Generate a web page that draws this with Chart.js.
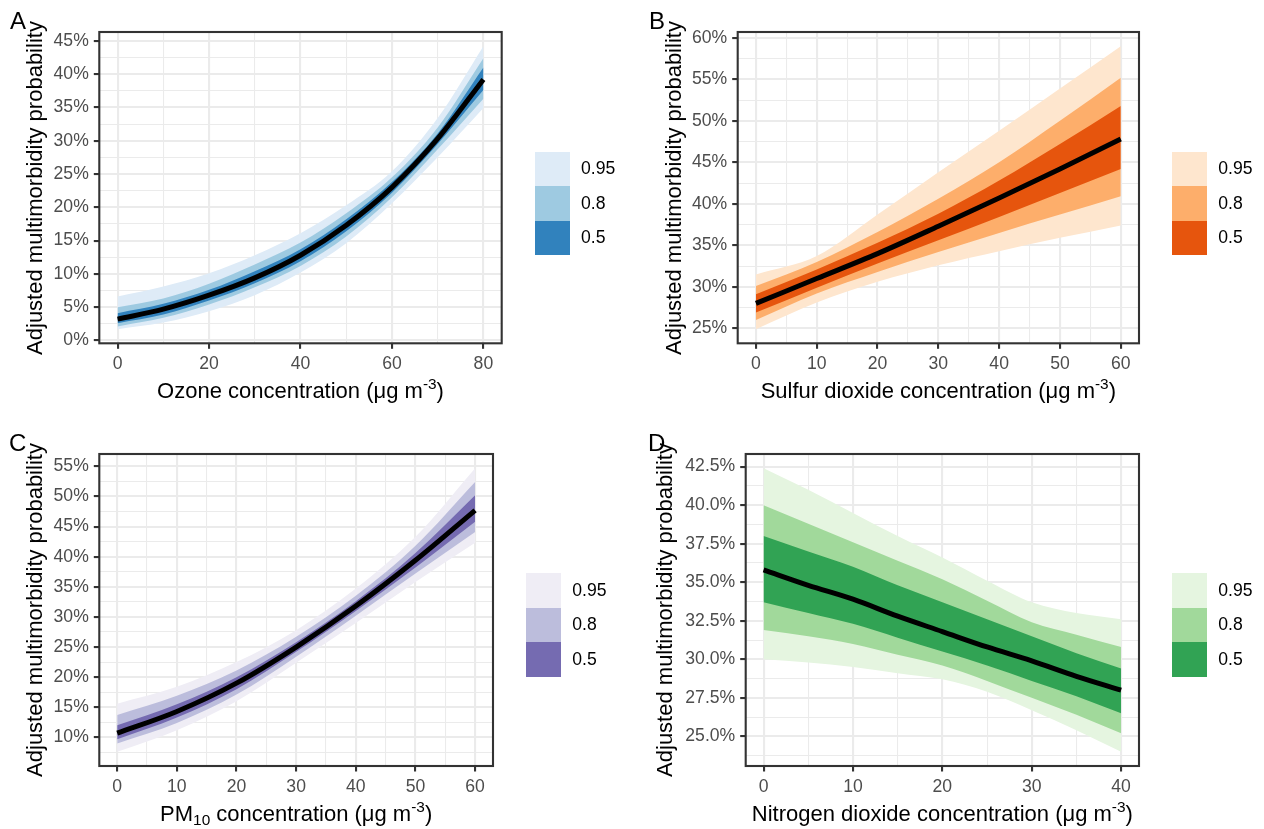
<!DOCTYPE html>
<html>
<head>
<meta charset="utf-8">
<script src="https://cdn.jsdelivr.net/npm/chart.js@4.4.1/dist/chart.umd.min.js"></script>
<style>
  html, body { margin: 0; padding: 0; background: #fff; }
  #fig { position: relative; width: 1264px; height: 829px; overflow: hidden;
         font-family: "Liberation Sans", Arial, Helvetica, sans-serif; }
  #fig canvas { position: absolute; }
  .txt { position: absolute; white-space: nowrap; color: #000; }
  .xt { font-size: 22px; line-height: 22px; text-align: center; width: 600px; }
  .yt { font-size: 22px; line-height: 22px; text-align: center; width: 500px; height: 22px;
        transform: rotate(-90deg); transform-origin: 50% 50%; }
  .sup { font-size: 15.4px; position: relative; top: -9px; }
  .sub { font-size: 15.4px; position: relative; top: 4px; }
  .tag { font-size: 24px; line-height: 24px; }
  .key { position: absolute; width: 35px; height: 34.5px; }
  .lab { font-size: 17.6px; line-height: 17.6px; }
</style>
</head>
<body>
<div id="fig"></div>
<script>
// ---------- data (probabilities in %) ----------
const levels = ['0.95', '0.8', '0.5'];

// Ozone
const ozoneX     = [0, 10, 20, 30, 40, 50, 60, 70, 80];
const ozoneFit   = [3.2, 4.7, 6.8, 9.4, 12.8, 17.3, 23.0, 30.3, 39.2];
const ozoneHi95  = [6.6, 8.1, 10.1, 12.8, 16.1, 20.3, 25.4, 33.4, 44.2];
const ozoneHi80  = [5.0, 6.3, 8.5, 11.4, 14.7, 19.1, 24.5, 32.0, 42.4];
const ozoneHi50  = [4.1, 5.5, 7.6, 10.4, 13.7, 18.2, 23.8, 31.1, 41.0];
const ozoneLo50  = [2.6, 3.9, 6.0, 8.6, 11.9, 16.4, 22.2, 29.5, 37.6];
const ozoneLo80  = [2.1, 3.4, 5.4, 8.0, 11.2, 15.6, 21.5, 28.7, 36.3];
const ozoneLo95  = [1.7, 2.7, 4.4, 6.8, 10.2, 14.6, 20.6, 27.5, 34.9];
const ozoneXTicks = [0, 20, 40, 60, 80];
const ozoneYTicks = [0, 5, 10, 15, 20, 25, 30, 35, 40, 45];

// Sulfur dioxide
const so2X    = [0, 10, 20, 30, 40, 50, 60];
const so2Fit  = [28.0, 31.0, 34.0, 37.3, 40.7, 44.2, 47.8];
const so2Hi95 = [31.5, 33.7, 38.7, 43.8, 48.8, 53.9, 59.0];
const so2Hi80 = [30.1, 33.0, 36.6, 40.6, 45.0, 50.0, 55.2];
const so2Hi50 = [29.1, 32.1, 35.3, 38.8, 42.8, 47.2, 51.8];
const so2Lo50 = [26.9, 29.9, 32.8, 35.6, 38.4, 41.3, 44.2];
const so2Lo80 = [26.0, 29.2, 31.8, 34.2, 36.5, 38.7, 40.9];
const so2Lo95 = [24.9, 28.1, 30.6, 32.6, 34.3, 35.9, 37.4];
const so2XTicks = [0, 10, 20, 30, 40, 50, 60];
const so2YTicks = [25, 30, 35, 40, 45, 50, 55, 60];

// PM10
const pm10X    = [0, 10, 20, 30, 40, 50, 60];
const pm10Fit  = [10.7, 14.3, 19.0, 25.0, 31.8, 39.4, 47.7];
const pm10Hi95 = [15.6, 18.4, 22.5, 27.8, 34.7, 43.3, 54.7];
const pm10Hi80 = [13.7, 16.9, 21.1, 26.7, 33.5, 41.8, 52.4];
const pm10Hi50 = [12.0, 15.5, 20.0, 25.8, 32.6, 40.6, 50.2];
const pm10Lo50 = [9.7, 13.3, 18.0, 24.2, 31.0, 38.2, 45.8];
const pm10Lo80 = [9.0, 12.4, 17.1, 23.4, 30.2, 37.2, 44.1];
const pm10Lo95 = [7.6, 11.2, 16.0, 22.4, 29.0, 35.8, 42.3];
const pm10XTicks = [0, 10, 20, 30, 40, 50, 60];
const pm10YTicks = [10, 15, 20, 25, 30, 35, 40, 45, 50, 55];

// Nitrogen dioxide
const no2X    = [0, 5, 10, 15, 20, 25, 30, 35, 40];
const no2Fit  = [35.8, 34.8, 33.9, 32.8, 31.8, 30.8, 29.9, 28.9, 28.0];
const no2Hi95 = [42.4, 41.0, 39.5, 38.0, 36.6, 35.1, 33.7, 33.0, 32.6];
const no2Hi80 = [40.0, 38.8, 37.6, 36.4, 35.2, 33.8, 32.4, 31.6, 30.8];
const no2Hi50 = [38.0, 37.0, 36.0, 34.8, 33.7, 32.6, 31.5, 30.4, 29.4];
const no2Lo50 = [33.7, 33.0, 32.3, 31.4, 30.5, 29.6, 28.6, 27.6, 26.5];
const no2Lo80 = [31.9, 31.5, 31.0, 30.3, 29.6, 28.6, 27.5, 26.4, 25.2];
const no2Lo95 = [30.0, 29.8, 29.5, 29.1, 28.7, 27.9, 26.7, 25.4, 24.0];
const no2XTicks = [0, 10, 20, 30, 40];
const no2YTicks = [25, 27.5, 30, 32.5, 35, 37.5, 40, 42.5];

// ---------- styling ----------
const FONT = '"Liberation Sans", Arial, Helvetica, sans-serif';
const blues   = ['#DEEBF7', '#9ECAE1', '#3182BD'];
const oranges = ['#FEE6CE', '#FDAE6B', '#E6550D'];
const purples = ['#EFEDF5', '#BCBDDC', '#756BB1'];
const greens  = ['#E5F5E0', '#A1D99B', '#31A354'];
const UNIT = ' (&mu;g m<span class="sup">-3</span>)';

const panels = [
  { tag: 'A', box: [0, 0, 632, 414], plot: [99.3, 32, 501.7, 343.3],
    xs: ozoneX, fit: ozoneFit, hi: [ozoneHi95, ozoneHi80, ozoneHi50], lo: [ozoneLo95, ozoneLo80, ozoneLo50],
    xTicks: ozoneXTicks, yTicks: ozoneYTicks, yFmt: v => v + '%', colors: blues,
    tagPos: [10, 9], yTitleX: 43, xTitleY: 398.5, legend: [535, 151.7],
    xTitle: 'Ozone concentration' + UNIT },
  { tag: 'B', box: [632, 0, 632, 414], plot: [737.7, 32, 1139, 343.3],
    xs: so2X, fit: so2Fit, hi: [so2Hi95, so2Hi80, so2Hi50], lo: [so2Lo95, so2Lo80, so2Lo50],
    xTicks: so2XTicks, yTicks: so2YTicks, yFmt: v => v + '%', colors: oranges,
    tagPos: [649, 9], yTitleX: 681.5, xTitleY: 398.5, legend: [1172.3, 151.7],
    xTitle: 'Sulfur dioxide concentration' + UNIT },
  { tag: 'C', box: [0, 414, 632, 415], plot: [99.3, 454, 493, 766],
    xs: pm10X, fit: pm10Fit, hi: [pm10Hi95, pm10Hi80, pm10Hi50], lo: [pm10Lo95, pm10Lo80, pm10Lo50],
    xTicks: pm10XTicks, yTicks: pm10YTicks, yFmt: v => v + '%', colors: purples,
    tagPos: [9, 431], yTitleX: 43, xTitleY: 821.2, legend: [526.3, 573.3],
    xTitle: 'PM<span class="sub">10</span> concentration' + UNIT },
  { tag: 'D', box: [632, 414, 632, 415], plot: [745.7, 454, 1139, 766],
    xs: no2X, fit: no2Fit, hi: [no2Hi95, no2Hi80, no2Hi50], lo: [no2Lo95, no2Lo80, no2Lo50],
    xTicks: no2XTicks, yTicks: no2YTicks, yFmt: v => v.toFixed(1) + '%', colors: greens,
    tagPos: [648, 431], yTitleX: 673, xTitleY: 821.2, legend: [1172.3, 573.3],
    xTitle: 'Nitrogen dioxide concentration' + UNIT }
];

const fig = document.getElementById('fig');

// ggplot-style 5% expansion of the data range
function expand(vals) {
  const lo = Math.min(...vals), hi = Math.max(...vals), d = (hi - lo) * 0.05;
  return [lo - d, hi + d];
}
// major breaks plus minor breaks halfway between them
function withMinor(major, lo, hi) {
  const step = major[1] - major[0], out = [];
  for (let v = major[0] - step / 2; v <= major[major.length - 1] + step / 2 + 1e-9; v += step / 2) {
    if (v >= lo && v <= hi) out.push(Math.round(v * 1000) / 1000);
  }
  return out;
}
const isIn = (list, v) => list.some(m => Math.abs(m - v) < 1e-6);

// panel border drawn around the plotting area
const framePlugin = {
  id: 'frame',
  afterDraw(chart) {
    const { ctx, chartArea: a } = chart;
    ctx.save();
    ctx.strokeStyle = '#333333';
    ctx.lineWidth = 2.1;
    ctx.strokeRect(a.left, a.top, a.right - a.left, a.bottom - a.top);
    ctx.restore();
  }
};

function addText(cls, html, left, top) {
  const d = document.createElement('div');
  d.className = 'txt ' + cls;
  d.innerHTML = html;
  d.style.left = left + 'px';
  d.style.top = top + 'px';
  fig.appendChild(d);
  return d;
}

panels.forEach(p => {
  const [bx, by, bw, bh] = p.box;
  const [pl, pt, pr, pb] = p.plot;
  const cv = document.createElement('canvas');
  cv.width = bw; cv.height = bh;
  cv.style.left = bx + 'px'; cv.style.top = by + 'px';
  cv.style.width = bw + 'px'; cv.style.height = bh + 'px';
  fig.appendChild(cv);

  const pts = arr => p.xs.map((x, i) => ({ x: x, y: arr[i] }));
  const common = { pointRadius: 0, pointHoverRadius: 0, cubicInterpolationMode: 'monotone' };
  const datasets = [
    Object.assign({ data: pts(p.fit), borderColor: '#000000', borderWidth: 5, fill: false, order: 0 }, common)
  ];
  // bands: 0.5 on top, 0.95 at the back
  [2, 1, 0].forEach(k => {
    const order = 3 - k;
    datasets.push(Object.assign({ data: pts(p.hi[k]), fill: '+1', backgroundColor: p.colors[k],
      borderWidth: 0, borderColor: 'rgba(0,0,0,0)', order: order }, common));
    datasets.push(Object.assign({ data: pts(p.lo[k]), fill: false,
      borderWidth: 0, borderColor: 'rgba(0,0,0,0)', order: order }, common));
  });

  const allY = [].concat(p.fit, ...p.hi, ...p.lo);
  const [yMin, yMax] = expand(allY);
  const [xMin, xMax] = expand(p.xs);
  const yAll = withMinor(p.yTicks, yMin, yMax);
  const xAll = withMinor(p.xTicks, xMin, xMax);

  const gridFor = majors => ({
    color: '#EBEBEB',
    lineWidth: c => (c.tick && isIn(majors, c.tick.value)) ? 2.1 : 1.07,
    drawTicks: true,
    tickLength: 5.5,
    tickWidth: 2.1,
    tickColor: c => (c.tick && isIn(majors, c.tick.value)) ? '#333333' : 'rgba(0,0,0,0)'
  });

  new Chart(cv, {
    type: 'line',
    data: { datasets: datasets },
    plugins: [framePlugin],
    options: {
      responsive: false,
      animation: false,
      devicePixelRatio: 1,
      events: [],
      layout: { padding: { left: 0, top: pt - by, right: bx + bw - pr, bottom: 0 } },
      plugins: { legend: { display: false }, tooltip: { enabled: false } },
      scales: {
        x: {
          type: 'linear', min: xMin, max: xMax,
          afterBuildTicks: s => { s.ticks = xAll.map(v => ({ value: v })); },
          afterFit: s => { s.height = by + bh - pb; },
          ticks: { autoSkip: false, maxRotation: 0, color: '#4D4D4D', padding: 5,
                   font: { family: FONT, size: 17.6 },
                   callback: v => isIn(p.xTicks, v) ? String(v) : '' },
          grid: gridFor(p.xTicks),
          border: { display: false }
        },
        y: {
          type: 'linear', min: yMin, max: yMax,
          afterBuildTicks: s => { s.ticks = yAll.map(v => ({ value: v })); },
          afterFit: s => { s.width = pl - bx; },
          ticks: { autoSkip: false, color: '#4D4D4D', padding: 5,
                   font: { family: FONT, size: 17.6 },
                   callback: v => isIn(p.yTicks, v) ? p.yFmt(v) : '' },
          grid: gridFor(p.yTicks),
          border: { display: false }
        }
      }
    }
  });

  // panel tag
  addText('tag', p.tag, p.tagPos[0], p.tagPos[1]);
  // x-axis title, centred under the panel
  addText('xt', p.xTitle, (pl + pr) / 2 - 300, p.xTitleY - 0.8465 * 22);
  // y-axis title, rotated and centred on the panel
  const cx = p.yTitleX - 0.3465 * 22, cy = (pt + pb) / 2;
  addText('yt', 'Adjusted multimorbidity probability', cx - 250, cy - 11);
  // legend
  const [lx, ly] = p.legend;
  levels.forEach((lev, k) => {
    const key = document.createElement('div');
    key.className = 'key';
    key.style.left = lx + 'px';
    key.style.top = (ly + k * 34.5) + 'px';
    key.style.background = p.colors[k];
    fig.appendChild(key);
    addText('lab', lev, lx + 46, ly + k * 34.5 + 17.25 - 0.4885 * 17.6);
  });
});
</script>
</body>
</html>
